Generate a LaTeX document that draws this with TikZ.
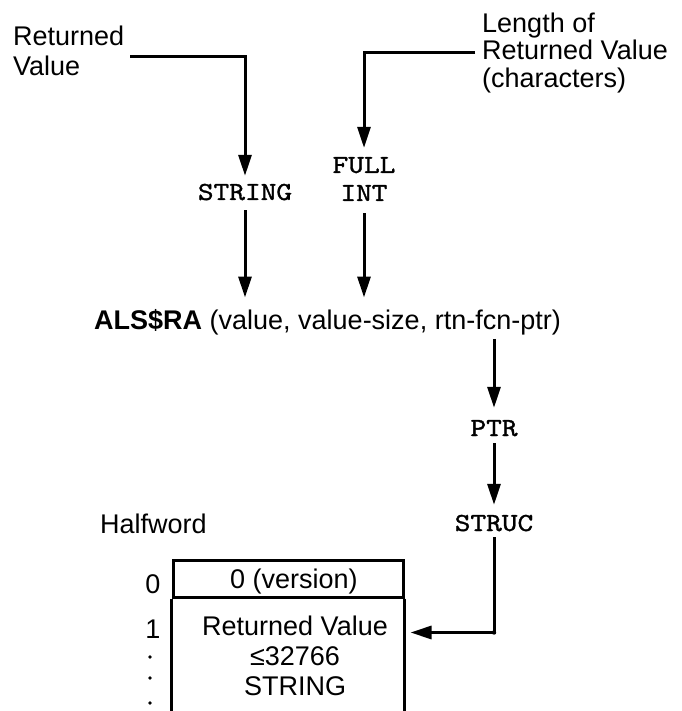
\documentclass[tikz,border=0pt]{standalone}
\usepackage{fontspec}
\setmainfont{Liberation Sans}
\newfontfamily\monof{lmmono10-regular.otf}[FakeStretch=1.15,FakeBold=1.3]
\usetikzlibrary{arrows.meta,calc}
\begin{document}
\begin{tikzpicture}[x=1pt,y=-1pt,
  every node/.style={inner sep=0pt, font=\fontsize{27}{30}\selectfont},
  lbl/.style={align=left},
  monofont/.style={font=\monof\fontsize{26}{28}\selectfont},
  mono/.style={monofont, text height=16pt, text depth=0pt},
  wire/.style={line width=3pt},
  arr/.style={wire,-{Triangle[length=21pt,width=13pt]}},
  dotmark/.style={fill=black}
]
\useasboundingbox (0,0) rectangle (681,711);

% labels at top
\node[lbl, anchor=north west] (rv) at (13,25.3) {Returned\\Value};
\node[lbl, anchor=north west, font=\fontsize{27}{27.5}\selectfont] (len) at (482,12.3) {Length of\\Returned Value\\(characters)};
\coordinate (rvA) at (130,57);
\coordinate (lenA) at (475,53);

% type nodes
\node[mono] (string) at (245,192) {STRING};
\node[monofont, align=center] (fi) at (364,179) {FULL\\INT};

\draw[arr, shorten >=8pt] (rvA) -| (string.north);
\draw[arr, shorten >=9pt] (lenA) -| (fi.north);

% call
\node[anchor=base west, text height=19pt, text depth=6pt] (als) at (94,329.7) {\textbf{ALS\$RA} (value, value-size, rtn-fcn-ptr)};

\draw[arr, shorten <=10pt, shorten >=13pt] (string.south) -- (string.south |- als.north);
\draw[arr, shorten <=12pt, shorten >=13pt] (fi.south) -- (fi.south |- als.north);

\node[mono] (ptr) at (494,428) {PTR};
\node[mono] (struc) at (494,523) {STRUC};
\draw[arr, shorten <=3pt, shorten >=12pt] (ptr.north |- als.south) -- (ptr.north);
\draw[arr, shorten <=7pt, shorten >=10pt] (ptr.south) -- (struc.north);

% structure
\node[anchor=base west] (hw) at (100,533.7) {Halfword};
\node[draw, line width=3pt, minimum width=230pt, minimum height=37pt] (hdr) at (288,578.5) {};
\node[text height=19.3pt, text depth=0pt] (ver) at (294,578.5) {0 (version)};
\draw[wire] (hdr.south west) -- ++(0,120);
\draw[wire] (hdr.south east) -- ++(0,120);
\node[align=center, anchor=north] (cell) at (295,615.3) {Returned Value\\≤32766\\STRING};
\node[anchor=base] (h0) at (153,593.7) {0};
\node[anchor=base] (h1) at (153,638) {1};
\fill[dotmark] (150,657) circle (1.8pt);
\fill[dotmark] (150,678) circle (1.8pt);
\fill[dotmark] (150,703) circle (1.8pt);

\draw[arr, shorten <=6pt, shorten >=6pt] (struc.south) |- ([yshift=-34pt]hdr.south east);
\fill[dotmark] ([yshift=-34pt]struc.south |- hdr.south) circle (2.2pt);
\end{tikzpicture}
\end{document}
